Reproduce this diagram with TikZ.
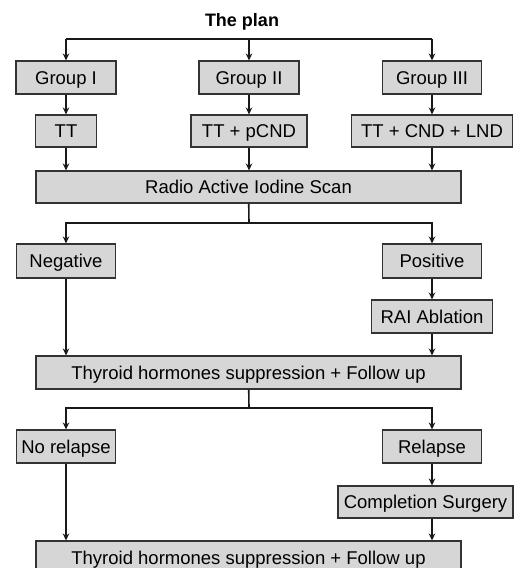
\documentclass[tikz,border=0pt]{standalone}
\usepackage{fontspec}
\setmainfont{Liberation Sans}
\usetikzlibrary{arrows.meta}

\begin{document}
\begin{tikzpicture}[x=1pt, y=-1pt,
            box/.style={draw=black!80, fill=black!16, line width=1.1pt, minimum height=33pt, inner sep=0pt, text height=13.3pt, text depth=0pt, font=\fontsize{18.5}{22}\selectfont},
            arr/.style={-{Stealth[length=7pt, width=6.5pt]}, line width=1.6pt, black!90},
            bar/.style={line width=1.6pt, black!90}
            ]
            \useasboundingbox (0,0) rectangle (523,568);
            \clip (0,0) rectangle (523,568);

            \node[font=\bfseries\fontsize{18}{22}\selectfont] (plan) at (242,22) {The plan};
            \coordinate (top) at (249,39);

            \node[box, minimum width=100pt] (g1) at (66,77.5) {Group I};
            \node[box, minimum width=100pt] (g2) at (249,77.5) {Group II};
            \node[box, minimum width=99pt] (g3) at (432,77.5) {Group III};

            \node[box, minimum width=61pt, minimum height=32pt] (t1) at (66,131) {TT};
            \node[box, minimum width=116pt, minimum height=32pt] (t2) at (249,131) {TT + pCND};
            \node[box, minimum width=161pt, minimum height=32pt] (t3) at (432,131) {TT + CND + LND};

            \node[box, minimum width=425pt, minimum height=32pt] (scan) at (248.5,187) {Radio Active Iodine Scan};
            \coordinate (fork1) at (249,223);

            \node[box, minimum width=99pt, minimum height=34pt] (neg) at (66,261) {Negative};
            \node[box, minimum width=99pt, minimum height=34pt] (pos) at (432,261) {Positive};
            \node[box, minimum width=121pt] (abl) at (432,316.5) {RAI Ablation};

            \node[box, minimum width=425pt] (thy1) at (248.5,372.5) {Thyroid hormones suppression + Follow up};
            \coordinate (fork2) at (249,408);

            \node[box, minimum width=99pt] (norel) at (66,446.5) {No relapse};
            \node[box, minimum width=99pt] (rel) at (432,446.5) {Relapse};
            \node[box, minimum width=175pt, minimum height=32pt] (comp) at (425.5,502) {Completion Surgery};

            \node[box, minimum width=425pt] (thy2) at (248.5,557.5) {Thyroid hormones suppression + Follow up};

            % groups
            \draw[bar] (g1.north |- top) -- (g3.north |- top);
            \draw[arr] (g1.north |- top) -- (g1);
            \draw[arr] (top) -- (g2);
            \draw[arr] (g3.north |- top) -- (g3);
            \draw[arr] (g1) -- (t1);
            \draw[arr] (g2) -- (t2);
            \draw[arr] (g3) -- (t3);
            \draw[arr] (t1) -- (t1 |- scan.north);
            \draw[arr] (t2) -- (t2 |- scan.north);
            \draw[arr] (t3) -- (t3 |- scan.north);

            % scan result
            \draw[bar] (scan) -- (fork1);
            \draw[arr] (fork1) -| (neg);
            \draw[arr] (fork1) -| (pos);
            \draw[arr] (pos) -- (abl);
            \draw[arr] (neg) -- (neg |- thy1.north);
            \draw[arr] (abl) -- (abl |- thy1.north);

            % follow up
            \draw[bar] (thy1) -- (fork2);
            \draw[arr] (fork2) -| (norel);
            \draw[arr] (fork2) -| (rel);
            \draw[arr] (rel) -- (rel |- comp.north);
            \draw[arr] (norel) -- (norel |- thy2.north);
            \draw[arr] (rel |- comp.south) -- (rel |- thy2.north);
\end{tikzpicture}
\end{document}
